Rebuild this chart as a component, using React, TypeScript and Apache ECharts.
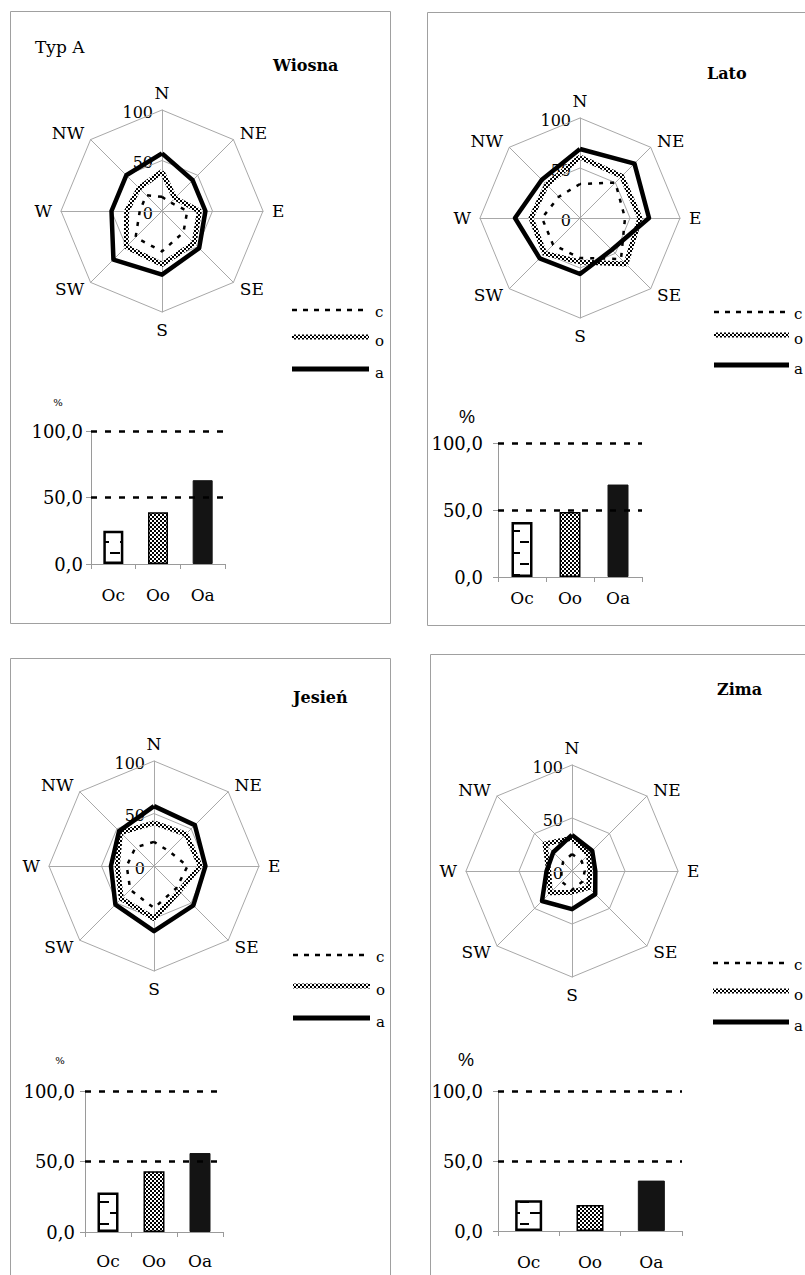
import React, { useEffect, useRef } from 'react';
import * as echarts from 'echarts';

// ---------- data ----------
const directions = ['N', 'NE', 'E', 'SE', 'S', 'SW', 'W', 'NW'];
const barCategories = ['Oc', 'Oo', 'Oa'];
const radarTicks = [0, 50, 100];
const legendKeys = ['c', 'o', 'a'];

// values in compass order: N, NE, E, SE, S, SW, W, NW
const springC = [14, 12, 25, 30, 40, 37, 22, 22];
const springO = [39, 18, 37, 45, 53, 50, 35, 32];
const springA = [57, 43, 43, 52, 63, 68, 50, 50];
const springBars = [25, 39, 63];

const summerC = [34, 50, 45, 58, 40, 38, 38, 30];
const summerO = [61, 59, 60, 65, 44, 50, 49, 47];
const summerA = [69, 77, 69, 45, 56, 57, 65, 54];
const summerBars = [41, 48.5, 69];

const autumnC = [23, 20, 32, 30, 40, 32, 26, 25];
const autumnO = [41, 43, 44, 34, 50, 44, 35, 45];
const autumnA = [57, 55, 49, 53, 62, 52, 41, 47];
const autumnBars = [28, 43, 56];

const winterC = [16, 13, 12, 14, 18, 14, 10, 12];
const winterO = [31, 22, 17, 22, 20, 29, 22, 36];
const winterA = [34, 27, 22, 31, 36, 40, 24, 25];
const winterBars = [22, 18.5, 36];

const seasonNames = ['Wiosna', 'Lato', 'Jesień', 'Zima'];
const typeLabel = 'Typ A';
const percentLabel = '%';

// ---------- layout ----------
const layouts = [
  {
    frame: { x: 10.5, y: 11.5, w: 380, h: 612 },
    radar: { cx: 162, cy: 211, r: 101 },
    grid: { left: 91, top: 431, width: 134, height: 133 },
    barWidth: 20, yMargin: 8, xMargin: 22,
    title: { x: 273, y: 65 },
    legend: { x1: 292, x2: 369, ys: [310, 337, 369], tx: 375 },
    pct: { x: 58, y: 402, big: false },
  },
  {
    frame: { x: 427.5, y: 12.5, w: 400, h: 613 },
    radar: { cx: 580, cy: 218, r: 100 },
    grid: { left: 498, top: 443, width: 144, height: 134 },
    barWidth: 21, yMargin: 15, xMargin: 12,
    title: { x: 707, y: 73 },
    legend: { x1: 714, x2: 789, ys: [312, 335, 365], tx: 794 },
    pct: { x: 467, y: 417, big: true },
  },
  {
    frame: { x: 10.5, y: 658.5, w: 380, h: 640 },
    radar: { cx: 154, cy: 866, r: 105 },
    grid: { left: 85, top: 1091, width: 138, height: 141 },
    barWidth: 21, yMargin: 10, xMargin: 20,
    title: { x: 293, y: 697 },
    legend: { x1: 293, x2: 370, ys: [955, 986, 1018], tx: 376 },
    pct: { x: 60, y: 1060, big: false },
  },
  {
    frame: { x: 430.5, y: 654.5, w: 400, h: 640 },
    radar: { cx: 572, cy: 871, r: 106 },
    grid: { left: 498, top: 1091, width: 184, height: 140 },
    barWidth: 27, yMargin: 15, xMargin: 22,
    title: { x: 717, y: 689 },
    legend: { x1: 713, x2: 789, ys: [963, 991, 1022], tx: 794 },
    pct: { x: 466, y: 1060, big: true },
  },
];

const FONT = 'DejaVu Serif';
const GRID_GRAY = '#a8a8a8';
const AXIS_GRAY = '#9a9a9a';

// ECharts radar places indicators counter-clockwise from the top
const ccwOrder = [0, 7, 6, 5, 4, 3, 2, 1];
const toRadar = (arr: any[]) => ccwOrder.map((i) => arr[i]);

function makeChecker() {
  const c = document.createElement('canvas');
  c.width = 4;
  c.height = 4;
  const ctx = c.getContext('2d')!;
  ctx.fillStyle = '#ffffff';
  ctx.fillRect(0, 0, 4, 4);
  ctx.fillStyle = '#000000';
  ctx.fillRect(0, 0, 2, 2);
  ctx.fillRect(2, 2, 2, 2);
  return { image: c, repeat: 'repeat', imageWidth: 4, imageHeight: 4 } as any;
}

function makeDashes() {
  const c = document.createElement('canvas');
  c.width = 20;
  c.height = 22;
  const ctx = c.getContext('2d')!;
  ctx.fillStyle = '#ffffff';
  ctx.fillRect(0, 0, 20, 22);
  ctx.fillStyle = '#000000';
  ctx.fillRect(10, 2, 10, 2);
  ctx.fillRect(0, 13, 9, 2);
  return { image: c, repeat: 'repeat', imageWidth: 20, imageHeight: 22 } as any;
}

export default function App() {
  const ref = useRef<HTMLDivElement>(null);

  useEffect(() => {
    if (!ref.current) return;
    const chart = echarts.init(ref.current, undefined, { renderer: 'svg' });
    const checker = makeChecker();
    const dashes = makeDashes();

    const seasonData = [
      { c: springC, o: springO, a: springA, bars: springBars },
      { c: summerC, o: summerO, a: summerA, bars: summerBars },
      { c: autumnC, o: autumnO, a: autumnA, bars: autumnBars },
      { c: winterC, o: winterO, a: winterA, bars: winterBars },
    ];

    const lineStyles: any = {
      c: { stroke: '#000', lineWidth: 2.5, lineDash: [5, 6] },
      o: { stroke: checker, lineWidth: 5 },
      a: { stroke: '#000', lineWidth: 5 },
    };

    const barStyles = [
      { color: dashes, borderColor: '#000', borderWidth: 2.5 },
      { color: checker, borderColor: '#000', borderWidth: 1.5 },
      { color: '#141414', borderColor: '#141414', borderWidth: 1 },
    ];

    const graphics: any[] = [];
    layouts.forEach((L, i) => {
      graphics.push({
        type: 'rect', silent: true, z: 0,
        shape: { x: L.frame.x, y: L.frame.y, width: L.frame.w, height: L.frame.h },
        style: { fill: 'none', stroke: '#a0a0a0', lineWidth: 1 },
      });
      graphics.push({
        type: 'text', silent: true, x: L.title.x, y: L.title.y,
        style: {
          text: seasonNames[i], fill: '#000', font: `bold 16px "${FONT}"`,
          textAlign: 'left', textVerticalAlign: 'middle', align: 'left', verticalAlign: 'middle',
        },
      });
      radarTicks.forEach((t) => {
        graphics.push({
          type: 'text', silent: true,
          x: L.radar.cx - 9, y: L.radar.cy - (t / 100) * L.radar.r + 2,
          style: {
            text: String(t), fill: '#000', font: `16px "${FONT}"`,
            textAlign: 'right', textVerticalAlign: 'middle', align: 'right', verticalAlign: 'middle',
          },
        });
      });
      legendKeys.forEach((k, j) => {
        const y = L.legend.ys[j];
        const s = lineStyles[k];
        graphics.push({
          type: 'line', silent: true,
          shape: { x1: L.legend.x1, y1: y, x2: L.legend.x2, y2: y },
          style: { stroke: s.stroke, lineWidth: s.lineWidth, lineDash: s.lineDash || null },
        });
        graphics.push({
          type: 'text', silent: true, x: L.legend.tx, y: y + (j === 0 ? 2 : 4),
          style: {
            text: k, fill: '#000', font: `15px "${FONT}"`,
            textAlign: 'left', textVerticalAlign: 'middle', align: 'left', verticalAlign: 'middle',
          },
        });
      });
      graphics.push({
        type: 'text', silent: true, x: L.pct.x, y: L.pct.y,
        style: {
          text: percentLabel, fill: '#000',
          font: L.pct.big ? '18px "Liberation Sans"' : `10px "${FONT}"`,
          textAlign: 'center', textVerticalAlign: 'middle', align: 'center', verticalAlign: 'middle',
        },
      });
    });
    graphics.push({
      type: 'text', silent: true, x: 35, y: 47,
      style: {
        text: typeLabel, fill: '#000', font: `17px "${FONT}"`,
        textAlign: 'left', textVerticalAlign: 'middle', align: 'left', verticalAlign: 'middle',
      },
    });

    const radarSeries = seasonData.map((d, i) => ({
      type: 'radar',
      radarIndex: i,
      symbol: 'none',
      silent: true,
      z: 3,
      data: [
        { name: 'o', value: toRadar(d.o), lineStyle: { color: checker, width: 5, type: 'solid' } },
        { name: 'c', value: toRadar(d.c), lineStyle: { color: '#000', width: 2.5, type: [4, 7] } },
        { name: 'a', value: toRadar(d.a), lineStyle: { color: '#000', width: 4.5, type: 'solid' } },
      ],
    }));

    const barSeries = seasonData.map((d, i) => ({
      type: 'bar',
      xAxisIndex: i,
      yAxisIndex: i,
      barWidth: layouts[i].barWidth,
      silent: true,
      data: d.bars.map((v, j) => ({ value: v, itemStyle: barStyles[j] })),
      markLine: {
        silent: true,
        symbol: 'none',
        label: { show: false },
        lineStyle: { color: '#000', width: 2.5, type: [6, 8] },
        data: [{ yAxis: 100 }, { yAxis: 50 }],
      },
    }));

    chart.setOption({
      animation: false,
      backgroundColor: '#ffffff',
      radar: layouts.map((L) => ({
        center: [L.radar.cx, L.radar.cy],
        radius: L.radar.r,
        startAngle: 90,
        splitNumber: 2,
        shape: 'polygon',
        nameGap: 9,
        indicator: toRadar(directions).map((n) => ({ name: n, min: 0, max: 100 })),
        axisName: { color: '#000', fontFamily: FONT, fontSize: 17 },
        splitLine: { lineStyle: { color: GRID_GRAY, width: 1 } },
        splitArea: { show: false },
        axisLine: { lineStyle: { color: GRID_GRAY, width: 1 } },
        axisTick: { show: false },
        axisLabel: { show: false },
      })),
      grid: layouts.map((L) => ({
        left: L.grid.left, top: L.grid.top, width: L.grid.width, height: L.grid.height,
        containLabel: false,
      })),
      xAxis: layouts.map((L, i) => ({
        type: 'category',
        gridIndex: i,
        data: barCategories,
        axisLine: { lineStyle: { color: AXIS_GRAY, width: 1 } },
        axisTick: { show: true, length: 5, lineStyle: { color: AXIS_GRAY } },
        axisLabel: { color: '#000', fontFamily: FONT, fontSize: 17, margin: L.xMargin },
      })),
      yAxis: layouts.map((L, i) => ({
        type: 'value',
        gridIndex: i,
        min: 0,
        max: 100,
        interval: 50,
        axisLine: { show: true, lineStyle: { color: AXIS_GRAY, width: 1 } },
        axisTick: { show: true, length: 5, lineStyle: { color: AXIS_GRAY } },
        splitLine: { show: false },
        axisLabel: {
          color: '#000', fontFamily: FONT, fontSize: 18, margin: L.yMargin,
          formatter: (v: number) => v.toFixed(1).replace('.', ','),
        },
      })),
      series: [...radarSeries, ...barSeries],
      graphic: { elements: graphics },
    });

    return () => chart.dispose();
  }, []);

  return (
    <div
      ref={ref}
      style={{ position: 'absolute', left: 0, top: 0, width: 805, height: 1275, background: '#fff' }}
    />
  );
}
